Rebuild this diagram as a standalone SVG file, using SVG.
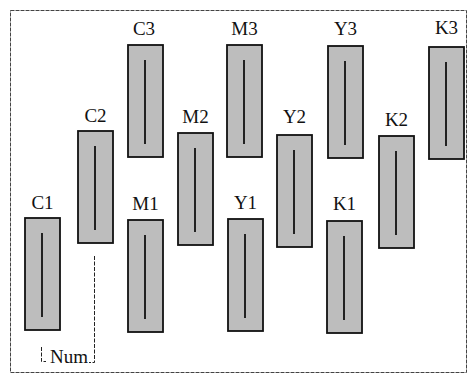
<svg xmlns="http://www.w3.org/2000/svg" width="470" height="378" viewBox="0 0 470 378">
<style>
.frame{fill:none;stroke:#444;stroke-width:1;stroke-dasharray:4 1}
.bar{fill:#bdbdbd;stroke:#111;stroke-width:1.8}
.core{stroke:#111;stroke-width:1.8;fill:none}
.lbl{font-family:"Liberation Serif","Times New Roman",serif;font-size:19px;fill:#111;text-anchor:middle}
.dim{fill:none;stroke:#222;stroke-width:1;stroke-dasharray:4 1.5}
</style>
<defs>
<g id="bar">
<rect class="bar" x="0" y="0" width="35" height="112"/>
<line class="core" x1="17" y1="15" x2="17" y2="99"/>
</g>
</defs>
<rect class="frame" x="10.5" y="10.5" width="456" height="362"/>
<g id="C1"><use href="#bar" x="25" y="218"/><text class="lbl" x="42.5" y="209">C1</text></g>
<g id="C2"><use href="#bar" x="78" y="131"/><text class="lbl" x="95.5" y="122">C2</text></g>
<g id="C3"><use href="#bar" x="128" y="45"/><text class="lbl" x="144" y="35">C3</text></g>
<g id="M1"><use href="#bar" x="128" y="220"/><text class="lbl" x="145.5" y="210">M1</text></g>
<g id="M2"><use href="#bar" x="178" y="133"/><text class="lbl" x="195.5" y="123">M2</text></g>
<g id="M3"><use href="#bar" x="227" y="45"/><text class="lbl" x="244.5" y="35">M3</text></g>
<g id="Y1"><use href="#bar" x="228" y="219"/><text class="lbl" x="245.5" y="209">Y1</text></g>
<g id="Y2"><use href="#bar" x="277" y="135"/><text class="lbl" x="294.5" y="123">Y2</text></g>
<g id="Y3"><use href="#bar" x="328" y="46"/><text class="lbl" x="345.5" y="35">Y3</text></g>
<g id="K1"><use href="#bar" x="327" y="221"/><text class="lbl" x="344.5" y="210">K1</text></g>
<g id="K2"><use href="#bar" x="379" y="136"/><text class="lbl" x="396.5" y="126">K2</text></g>
<g id="K3"><use href="#bar" x="429" y="47"/><text class="lbl" x="446.5" y="34">K3</text></g>
<g id="connectors">
<path class="dim" d="M94.5 256 V362.5 H89"/>
<path class="dim" d="M41.5 347 V361.5 H46"/>
</g>
<g id="Num"><text class="lbl" x="69" y="363">Num</text></g>
</svg>
